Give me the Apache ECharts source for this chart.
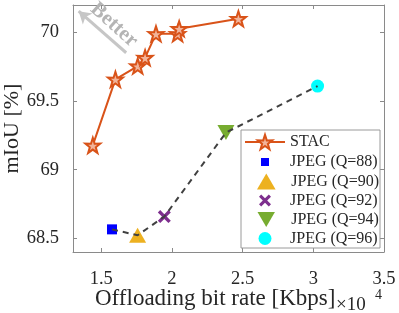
<!DOCTYPE html>
<html><head><meta charset="utf-8">
<script src="https://cdn.jsdelivr.net/npm/echarts@6/dist/echarts.min.js"></script>
<style>html,body{margin:0;padding:0;background:#fff}#c{width:399px;height:313px}</style>
</head><body><div id="c"></div>
<script>
// ---- data ----
const stacName = 'STAC';
const stacX = [1.44, 1.60, 1.758, 1.81, 1.887, 2.04, 2.051, 2.47];
const stacY = [69.177, 69.658, 69.755, 69.816, 69.99, 69.99, 70.027, 70.10];
const jpegNames = ['JPEG (Q=88)', 'JPEG (Q=90)', 'JPEG (Q=92)', 'JPEG (Q=94)', 'JPEG (Q=96)'];
const jpegX = [1.576, 1.757, 1.946, 2.382, 3.03];
const jpegY = [68.565, 68.522, 68.658, 69.27, 69.609];
const xTicks = [1.5, 2, 2.5, 3, 3.5];
const yTicks = [68.5, 69, 69.5, 70];
const xRange = [1.3, 3.5];
const yRange = [68.4, 70.2];
const betterArrow = [[1.676, 69.852], [1.34, 70.155]];

// ---- styles ----
const FONT = 'Liberation Serif';
const AX = '#8a8a8a';
const TXT = '#262626';
const ORANGE = '#D95319';
const STAR = 'path://M50,0L61.8,35.1L97.6,34.5L69,56.9L79.4,90.5L50,70.5L20.6,90.5L31,56.9L2.4,34.5L38.2,35.1Z';
const XMARK = 'path://M0,2.2L2.2,0L6,3.8L9.8,0L12,2.2L8.2,6L12,9.8L9.8,12L6,8.2L2.2,12L0,9.8L3.8,6Z';
const DOWNTRI = 'path://M0,0L10,0L5,8.6Z';
const UPTRI = 'path://M5,0L10,8.6L0,8.6Z';
const SQUARE = 'path://M0,0L10,0L10,10L0,10Z';
// legendH: icon box height in the legend, legendW: resulting drawn icon width
const jpegStyle = [
  {symbol: SQUARE, size: 10, color: '#0000FF', legendH: 8, legendW: 8},
  {symbol: UPTRI, size: [17, 15], color: '#EDB120', legendH: 16, legendW: 16},
  {symbol: XMARK, size: 13, color: '#7E2F8E', legendH: 12, legendW: 12},
  {symbol: DOWNTRI, size: [17, 15], color: '#77AC30', legendH: 15, legendW: 15},
  {symbol: 'circle', size: 13, color: '#00FFFF', legendH: 13, legendW: 13}
];

function axisX(pos, showLabel) {
  return {
    type: 'value', min: xRange[0], max: xRange[1], position: pos,
    axisLine: {show: true, onZero: false, lineStyle: {color: AX, width: 1}},
    axisTick: {show: true, inside: true, length: 4, customValues: xTicks, lineStyle: {color: AX}},
    axisLabel: {show: showLabel, customValues: xTicks, margin: 18, fontFamily: FONT, fontSize: 18.5, color: TXT},
    splitLine: {show: false}
  };
}
function axisY(pos, showLabel) {
  return {
    type: 'value', min: yRange[0], max: yRange[1], position: pos,
    axisLine: {show: true, onZero: false, lineStyle: {color: AX, width: 1}},
    axisTick: {show: true, inside: true, length: 4, customValues: yTicks, lineStyle: {color: AX}},
    axisLabel: {show: showLabel, customValues: yTicks, margin: 14, fontFamily: FONT, fontSize: 18.5, color: TXT},
    splitLine: {show: false}
  };
}

const yLeft = axisY('left', true);
yLeft.name = 'mIoU [%]';
yLeft.nameLocation = 'middle';
yLeft.nameRotate = 90;
yLeft.nameGap = 50;
yLeft.nameMoveOverlap = false;
yLeft.nameTextStyle = {fontFamily: FONT, fontSize: 22, color: TXT};

const series = [];
series.push({
  name: stacName, type: 'line', z: 3,
  data: stacX.map((x, i) => [x, stacY[i]]),
  symbol: STAR, symbolSize: 15,
  lineStyle: {color: ORANGE, width: 2},
  itemStyle: {color: '#f2b49a', borderColor: ORANGE, borderWidth: 2},
  markLine: {
    silent: true, symbol: ['none', 'arrow'], symbolSize: [11, 12],
    lineStyle: {color: '#c6c6c6', width: 3, type: 'solid'},
    label: {show: false},
    data: [[{coord: betterArrow[0]}, {coord: betterArrow[1]}]]
  }
});
jpegNames.forEach((n, i) => {
  const s = jpegStyle[i];
  series.push({
    name: n, type: 'scatter', z: 2,
    data: [[jpegX[i], jpegY[i]]],
    symbol: s.symbol, symbolSize: s.size,
    itemStyle: {color: s.color, opacity: 1, borderWidth: 0}
  });
});
series.push({
  name: 'jpeg-trend', type: 'line', z: 4,
  data: jpegX.map((x, i) => [x, jpegY[i]]),
  symbol: 'none',
  lineStyle: {color: '#404040', width: 2, type: [6, 5]}
});

const legendCenters = [142, 162, 181.5, 200.5, 219.5, 238.5];
const legendIconCx = 266;
const legends = [stacName].concat(jpegNames).map((n, i) => ({
  data: [n],
  left: i === 0 ? 244 : legendIconCx - jpegStyle[i - 1].legendW / 2 - 1,
  top: legendCenters[i] - 9, padding: 0,
  itemWidth: 40, itemHeight: i === 0 ? 18 : jpegStyle[i - 1].legendH,
  selectedMode: false,
  textStyle: {fontFamily: FONT, fontSize: 16, color: TXT, lineHeight: 18},
  z: 6
}));

const chart = echarts.init(document.getElementById('c'), null, {renderer: 'canvas'});
chart.setOption({
  animation: false,
  backgroundColor: '#fff',
  grid: {left: 73, right: 15, top: 5, bottom: 61, containLabel: false, outerBoundsMode: 'none'},
  xAxis: [axisX('bottom', true), axisX('top', false)],
  yAxis: [yLeft, axisY('right', false)],
  legend: legends,
  series: series,
  graphic: [
    {type: 'rect', z: 5, shape: {x: 241, y: 130, width: 139, height: 118},
     style: {fill: '#fff', stroke: '#9a9a9a', lineWidth: 1}},
    {type: 'text', z: 5, x: 114, y: 25, rotation: -42 * Math.PI / 180,
     style: {text: 'Better', fontFamily: FONT, fontSize: 21, fontWeight: 'bold', fill: '#b4b4b4', align: 'center', verticalAlign: 'middle'}},
    {type: 'text', z: 5, x: 95, y: 299,
     style: {text: 'Offloading bit rate [Kbps]', fontFamily: FONT, fontSize: 23, fill: TXT, align: 'left', verticalAlign: 'middle'}},
    {type: 'text', z: 5, x: 336, y: 305,
     style: {text: '×10', fontFamily: FONT, fontSize: 19, fill: TXT, align: 'left', verticalAlign: 'middle'}},
    {type: 'text', z: 5, x: 375, y: 295,
     style: {text: '4', fontFamily: FONT, fontSize: 14, fill: TXT, align: 'left', verticalAlign: 'middle'}}
  ]
});
</script></body></html>
